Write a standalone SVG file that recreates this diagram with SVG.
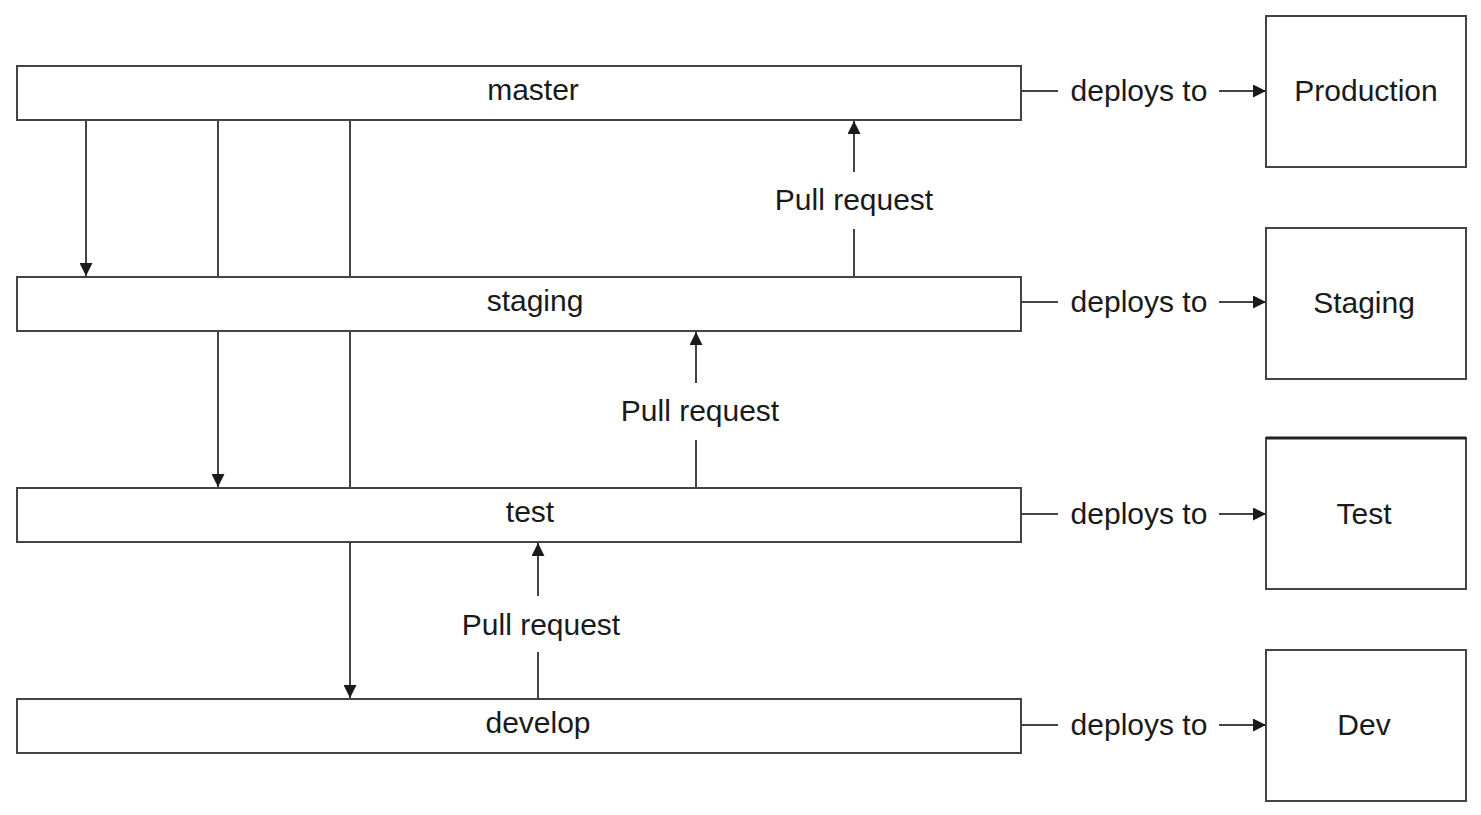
<svg xmlns="http://www.w3.org/2000/svg" width="1481" height="815" viewBox="0 0 1481 815">
<defs>
<marker id="ah" viewBox="0 0 10 10" refX="10" refY="5" markerWidth="13" markerHeight="13" markerUnits="userSpaceOnUse" orient="auto">
<path d="M0,0 L10,5 L0,10 z" fill="#1a1a1a"/>
</marker>
<style>
.bar{fill:#fff;stroke:#444;stroke-width:2}
.box{fill:#fff;stroke:#444;stroke-width:2}
.ln{fill:none;stroke:#444;stroke-width:2}
.arr{fill:none;stroke:#444;stroke-width:2;marker-end:url(#ah)}
text{font-family:"Liberation Sans",Arial,sans-serif;font-size:30px;fill:#1a1a1a;text-anchor:middle}
</style>
</defs>
<rect width="1481" height="815" fill="#fff"/>
<g id="master"><rect class="bar" x="17" y="66" width="1004" height="54"/><text x="533" y="100">master</text></g>
<g id="staging"><rect class="bar" x="17" y="277" width="1004" height="54"/><text x="535" y="311">staging</text></g>
<g id="test"><rect class="bar" x="17" y="488" width="1004" height="54"/><text x="530" y="522">test</text></g>
<g id="develop"><rect class="bar" x="17" y="699" width="1004" height="54"/><text x="538" y="733">develop</text></g>
<g id="production"><rect class="box" x="1266" y="16" width="200" height="151"/><text x="1366" y="101">Production</text></g>
<g id="staging-env"><rect class="box" x="1266" y="228" width="200" height="151"/><text x="1364" y="313">Staging</text></g>
<g id="test-env"><rect class="box" x="1266" y="438" width="200" height="151"/><line x1="1266" y1="438" x2="1466" y2="438" stroke="#222" stroke-width="3"/><text x="1364" y="524">Test</text></g>
<g id="dev-env"><rect class="box" x="1266" y="650" width="200" height="151"/><text x="1364" y="735">Dev</text></g>
<g id="connectors">
<line class="arr" x1="86" y1="120" x2="86" y2="276"/>
<line class="ln" x1="218" y1="120" x2="218" y2="277"/>
<line class="arr" x1="218" y1="331" x2="218" y2="487"/>
<line class="ln" x1="350" y1="120" x2="350" y2="277"/>
<line class="ln" x1="350" y1="331" x2="350" y2="488"/>
<line class="arr" x1="350" y1="542" x2="350" y2="698"/>
<line class="ln" x1="854" y1="277" x2="854" y2="229"/>
<line class="arr" x1="854" y1="172" x2="854" y2="121"/>
<text x="854" y="210">Pull request</text>
<line class="ln" x1="696" y1="488" x2="696" y2="440"/>
<line class="arr" x1="696" y1="383" x2="696" y2="332"/>
<text x="700" y="421">Pull request</text>
<line class="ln" x1="538" y1="699" x2="538" y2="652"/>
<line class="arr" x1="538" y1="596" x2="538" y2="543"/>
<text x="541" y="635">Pull request</text>
<line class="ln" x1="1021" y1="91" x2="1058" y2="91"/>
<text x="1139" y="101">deploys to</text>
<line class="arr" x1="1219" y1="91" x2="1266" y2="91"/>
<line class="ln" x1="1021" y1="302" x2="1058" y2="302"/>
<text x="1139" y="312">deploys to</text>
<line class="arr" x1="1219" y1="302" x2="1266" y2="302"/>
<line class="ln" x1="1021" y1="514" x2="1058" y2="514"/>
<text x="1139" y="524">deploys to</text>
<line class="arr" x1="1219" y1="514" x2="1266" y2="514"/>
<line class="ln" x1="1021" y1="725" x2="1058" y2="725"/>
<text x="1139" y="735">deploys to</text>
<line class="arr" x1="1219" y1="725" x2="1266" y2="725"/>
</g>
</svg>
